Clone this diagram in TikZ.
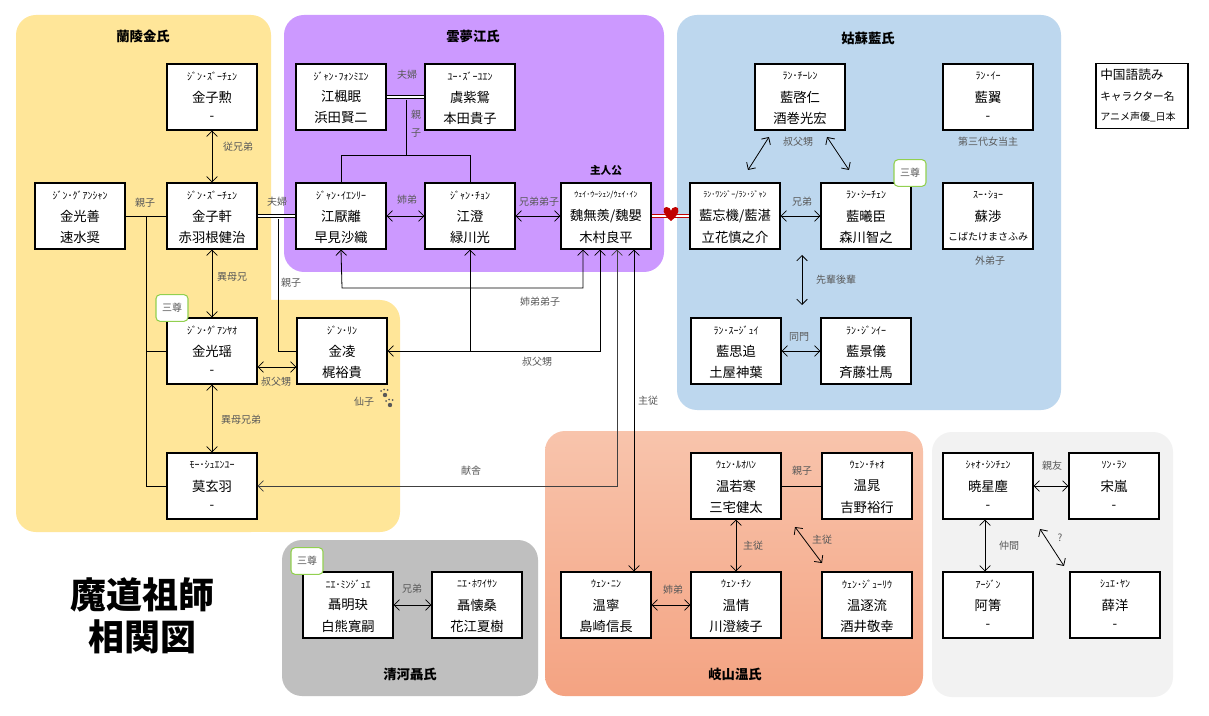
\documentclass[tikz,border=0pt]{standalone}
\usepackage{fontspec}
\usepackage{graphicx}
\setmainfont{Noto Sans CJK JP}
\usetikzlibrary{arrows.meta,calc}
\definecolor{jinY}{HTML}{FFE699}
\definecolor{jiangP}{HTML}{CC99FF}
\definecolor{lanB}{HTML}{BDD7EE}
\definecolor{wenT}{HTML}{F8C4AC}
\definecolor{wenB}{HTML}{F4A382}
\definecolor{othG}{HTML}{F2F2F2}
\definecolor{nieG}{HTML}{BFBFBF}
\definecolor{lbl}{HTML}{595959}
\definecolor{tagg}{HTML}{92D050}
\definecolor{hrt}{HTML}{C00000}
\definecolor{dkl}{HTML}{404040}
\newcommand\fitw[1]{\sbox0{#1}\ifdim\wd0>62pt \resizebox{62pt}{!}{#1}\else #1\fi}
\newcommand\person[6]{%
  \node[box] (#1) at (#2,#3) {};
  \node[rb] at ([yshift=15.75pt]#1.center) {\fitw{#4}};
  \node[nm] at (#1.center) {\fitw{#5}};
  \node[nm] at ([yshift=-15.75pt]#1.center) {\fitw{#6}};}
\begin{document}
\begin{tikzpicture}[x=0.75pt,y=-0.75pt,
  >={Straight Barb[length=4pt,width=8pt]},
  box/.style={draw=black,fill=white,line width=0.8pt,minimum width=67.5pt,minimum height=49.5pt,inner sep=0},
  rb/.style={font=\fontsize{7.5}{8}\selectfont,inner sep=0},
  nm/.style={font=\fontsize{10}{12}\selectfont,inner sep=0},
  lb/.style={font=\fontsize{7.5}{9}\selectfont,text=lbl,inner sep=1pt},
  ln/.style={line width=0.6pt},
  arr/.style={ln,<->},
  dbl/.style={line width=0.8pt,double=white,double distance=1.6pt,draw=black},
  ttl/.style={font=\bfseries\fontsize{10}{12}\selectfont},
  tag/.style={draw=tagg,fill=white,rounded corners=3pt,line width=0.8pt,minimum width=24pt,minimum height=20pt,font=\fontsize{7.5}{9}\selectfont,text=lbl,inner sep=0}]
\useasboundingbox (0,0) rectangle (1209,716);
\fill[white] (0,0) rectangle (1209,716);
% groups
\fill[jinY,rounded corners=15] (16,15) rectangle (271,532);
\fill[jinY,rounded corners=15] (250,300) rectangle (400,532);
\fill[jinY] (250,500) rectangle (280,532);
\fill[jiangP,rounded corners=15] (284,15) rectangle (664,272);
\fill[lanB,rounded corners=15] (677,15) rectangle (1061,410);
\shade[top color=wenT,bottom color=wenB,rounded corners=15] (545,431) rectangle (923,696);
\fill[othG,rounded corners=15] (932,432) rectangle (1173,697);
\fill[nieG,rounded corners=15] (282,540) rectangle (538,696);
% titles
\node[ttl] (tJin) at (143,36) {蘭陵金氏};
\node[ttl] (tJiang) at (473,36) {雲夢江氏};
\node[ttl] (tLan) at (868,38) {姑蘇藍氏};
\node[ttl] (tWen) at (735,674) {岐山温氏};
\node[ttl] (tNie) at (410,674) {清河聶氏};
\node[ttl,font=\bfseries\fontsize{8}{10}\selectfont] (tHero) at (606,170) {主人公};
\node[font=\bfseries\fontsize{27}{30}\selectfont] (mt1) at (142,595) {魔道祖師};
\node[font=\bfseries\fontsize{27}{30}\selectfont] (mt2) at (142,637) {相関図};
% persons
\person{JZX}{212}{97}{ｼﾞﾝ･ｽﾞｰﾁｪﾝ}{金子勲}{-}
\person{JGS}{80}{216}{ｼﾞﾝ･ｸﾞｱﾝｼｬﾝ}{金光善}{速水奨}
\person{JZXn}{212}{216}{ｼﾞﾝ･ｽﾞｰﾁｪﾝ}{金子軒}{赤羽根健治}
\person{JGY}{212}{351}{ｼﾞﾝ･ｸﾞｱﾝﾔｵ}{金光瑶}{-}
\person{JL}{342}{351}{ｼﾞﾝ･ﾘﾝ}{金凌}{梶裕貴}
\person{Mo}{212}{486}{ﾓｰ･ｼｭｴﾝﾕｰ}{莫玄羽}{-}
\person{JFM}{341}{97}{ｼﾞｬﾝ･ﾌｫﾝﾐｴﾝ}{江楓眠}{浜田賢二}
\person{YZY}{470}{97}{ﾕｰ･ｽﾞｰﾕｴﾝ}{虞紫鴛}{本田貴子}
\person{JYL}{341}{216}{ｼﾞｬﾝ･ｲｴﾝﾘｰ}{江厭離}{早見沙織}
\person{JC}{470}{216}{ｼﾞｬﾝ･ﾁｮﾝ}{江澄}{緑川光}
\person{Wei}{606}{216}{{\fontsize{6}{6}\selectfont ｳｪｲ･ｳｰｼｪﾝ/ｳｪｲ･ｲﾝ}}{魏無羨/魏嬰}{木村良平}
\person{LQR}{800}{97}{ﾗﾝ･ﾁｰﾚﾝ}{藍啓仁}{酒巻光宏}
\person{LY}{988}{97}{ﾗﾝ･ｲｰ}{藍翼}{-}
\person{LWJ}{735}{216}{{\fontsize{6}{6}\selectfont ﾗﾝ･ﾜﾝｼﾞｰ/ﾗﾝ･ｼﾞｬﾝ}}{藍忘機/藍湛}{立花慎之介}
\person{LXC}{866}{216}{ﾗﾝ･ｼｰﾁｪﾝ}{藍曦臣}{森川智之}
\person{SS}{988}{216}{ｽｰ･ｼｮｰ}{蘇渉}{{\fontsize{7.5}{9}\selectfont こばたけまさふみ}}
\person{LSZ}{736}{351}{ﾗﾝ･ｽｰｼﾞｭｲ}{藍思追}{土屋神葉}
\person{LJY}{866}{351}{ﾗﾝ･ｼﾞﾝｲｰ}{藍景儀}{斉藤壮馬}
\person{WRH}{736}{486}{ｳｪﾝ･ﾙｵﾊﾝ}{温若寒}{三宅健太}
\person{WC}{867}{486}{ｳｪﾝ･ﾁｬｵ}{温晁}{吉野裕行}
\person{WN}{606}{605}{ｳｪﾝ･ﾆﾝ}{温寧}{島崎信長}
\person{WQ}{736}{605}{ｳｪﾝ･ﾁﾝ}{温情}{川澄綾子}
\person{WZL}{867}{605}{ｳｪﾝ･ｼﾞｭｰﾘｳ}{温逐流}{酒井敬幸}
\person{XX}{988}{486}{ｼｬｵ･ｼﾝﾁｪﾝ}{暁星塵}{-}
\person{SL}{1114}{486}{ｿﾝ･ﾗﾝ}{宋嵐}{-}
\person{AJ}{988}{605}{ｱｰｼﾞﾝ}{阿箐}{-}
\person{XY}{1115}{605}{ｼｭｴ･ﾔﾝ}{薛洋}{-}
\person{NM}{348}{605}{ﾆｴ･ﾐﾝｼﾞｭｴ}{聶明玦}{白熊寛嗣}
\person{NH}{477}{605}{ﾆｴ･ﾎﾜｲｻﾝ}{聶懐桑}{花江夏樹}
% tags
\node[tag] (tg1) at (910,173) {三尊};
\node[tag] (tg2) at (172,308) {三尊};
\node[tag] (tg3) at (307,561) {三尊};
% legend
\node[draw=black,fill=white,line width=0.8pt,minimum width=69pt,minimum height=49pt] (leg) at (1142,96) {};
\node[anchor=west,inner sep=0,font=\fontsize{9.5}{11}\selectfont] (lg1) at (1100,75) {中国語読み};
\node[anchor=west,inner sep=0,font=\fontsize{8}{10}\selectfont] (lg2) at (1100,96) {キャラクター名};
\node[anchor=west,inner sep=0,font=\fontsize{7.5}{9}\selectfont] (lg3) at (1100,117) {アニメ声優\_日本};
% Jin connectors
\draw[arr] (JZX.south) -- (JZXn.north);
\node[lb] at (238,147) {従兄弟};
\draw[ln] (JGS.east) -- (JZXn.west);
\node[lb] at (145,203) {親子};
\coordinate (j1) at (146,216);
\draw[ln] (j1) |- (Mo.west);
\draw[ln] (146,351) -- (JGY.west);
\draw[arr] (JZXn.south) -- (JGY.north);
\node[lb] at (232,277) {異母兄};
\draw[arr] (JGY.south) -- (Mo.north);
\node[lb] at (241,420) {異母兄弟};
\draw[arr] ($(JGY.east)+(0,16)$) -- ($(JL.west)+(0,16)$);
\node[lb] at (276,382) {叔父甥};
\node[lb] at (364,402) {仙子};
\fill[lbl] (385,395) circle (2.2) (381,391) circle (1) (384,389.5) circle (1) (387.5,390) circle (1);
\fill[lbl] (390,405) circle (2.2) (386,401) circle (1) (389,399.5) circle (1) (392.5,400) circle (1);
% Jiang connectors
\draw[dbl] (JZXn.east) -- (JYL.west);
\node[lb] at (277,202) {夫婦};
\draw[ln] (278,219) |- (JL.west);
\node[lb] at (291,283) {親子};
\draw[dbl] (JFM.east) -- (YZY.west);
\node[lb] at (407,75) {夫婦};
\coordinate (j2) at (406,100);
\draw[ln] (j2) -- (406,155) -| (JYL.north);
\draw[ln] (406,155) -| (JC.north);
\node[lb] at (416,115) {親};
\node[lb] at (416,133) {子};
\draw[arr] (JYL.east) -- (JC.west);
\node[lb] at (407,200) {姉弟};
\draw[arr] (JC.east) -- (Wei.west);
\node[lb] at (539,202) {兄弟弟子};
\draw[arr] (JYL.south) -- (342,288) -- (583,288) -- ($(Wei.south)+(-23,0)$);
\node[lb] at (540,302) {姉弟弟子};
\draw[ln,<-] (JC.south) -- (470,352);
\draw[arr] ($(Wei.south)+(-6,0)$) |- (JL.east);
\node[lb] at (537,362) {叔父甥};
\draw[arr,draw=dkl] ($(Wei.south)+(11,0)$) |- (Mo.east);
\node[lb] at (471,471) {献舎};
\draw[arr] ($(Wei.south)+(28,0)$) -- ($(WN.north)+(28,0)$);
\node[lb] at (648,401) {主従};
% red couple
\draw[draw=hrt,double=white,double distance=1.6pt,line width=0.9pt] (Wei.east) -- (LWJ.west);
\fill[hrt] (671,221) .. controls (662,214) and (662,207) .. (666.5,207) .. controls (669,207) and (671,209) .. (671,211) .. controls (671,209) and (673,207) .. (675.5,207) .. controls (680,207) and (680,214) .. (671,221) -- cycle;
% Lan connectors
\draw[arr] (769,137) -- (748,170);
\draw[arr] (827,137) -- (849,170);
\node[lb] at (798,142) {叔父甥};
\draw[arr] (LWJ.east) -- (LXC.west);
\node[lb] at (802,202) {兄弟};
\draw[arr] (802,255) -- (802,305);
\node[lb] at (836,280) {先輩後輩};
\draw[arr] (LSZ.east) -- (LJY.west);
\node[lb] at (799,337) {同門};
\node[lb] at (988,142) {第三代女当主};
\node[lb] at (990,261) {外弟子};
% Wen connectors
\draw[ln] (WRH.east) -- (WC.west);
\node[lb] at (802,471) {親子};
\draw[arr] (WRH.south) -- (WQ.north);
\node[lb] at (753,546) {主従};
\draw[arr] (795,527) -- (822,563);
\node[lb] at (822,540) {主従};
\draw[arr] (WN.east) -- (WQ.west);
\node[lb] at (673,590) {姉弟};
% others
\draw[arr] (XX.east) -- (SL.west);
\node[lb] at (1052,466) {親友};
\draw[arr] ($(XX.south)+(-3,0)$) -- ($(AJ.north)+(-3,0)$);
\node[lb] at (1009,546) {仲間};
\draw[arr] (1040,529) -- (1064,566);
\node[lb] at (1060,538) {?};
% Nie
\draw[arr] (NM.east) -- (NH.west);
\node[lb] at (412,589) {兄弟};
\end{tikzpicture}
\end{document}
